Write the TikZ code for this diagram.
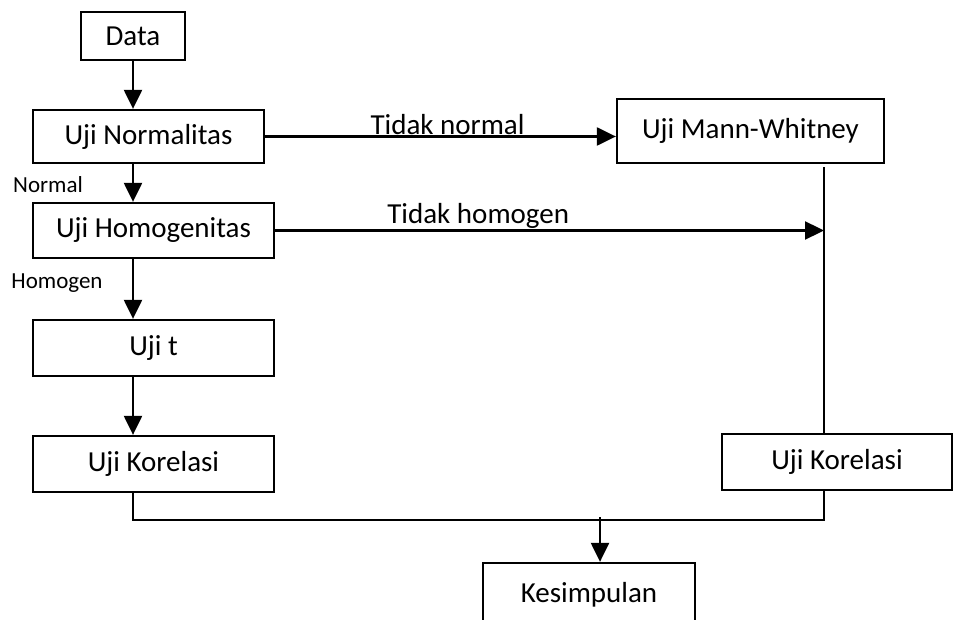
\documentclass[tikz,border=0pt]{standalone}
\usepackage{fontspec}
\setmainfont{Carlito}
\usepackage{tikz}
\usetikzlibrary{calc,arrows.meta}

\tikzset{
  box/.style={draw, line width=2.3pt, fill=white, inner sep=0pt,
    font=\fontsize{29}{34}\selectfont},
  arr/.style={line width=2.3pt, -{Triangle[length=19pt,width=18pt]}},
  link/.style={line width=1.7pt},
  small/.style={font=\fontsize{23}{27}\selectfont, inner sep=0pt},
  lbl/.style={font=\fontsize{29}{34}\selectfont, above, inner sep=1pt}
}

\begin{document}
\begin{tikzpicture}[x=1pt,y=-1pt]
  \clip (0,0) rectangle (955,620);
  \fill[white] (0,0) rectangle (955,620);

  % Kotak kiri
  \node[box, minimum width=104pt, minimum height=48pt] (data) at (133,36) {Data};
  \node[box, minimum width=231pt, minimum height=53pt] (norm) at (148.5,136.5) {Uji Normalitas};
  \node[box, minimum width=241pt, minimum height=55pt] (homog) at (153.5,230.5) {Uji Homogenitas};
  \node[box, minimum width=241pt, minimum height=56pt] (ujit) at (153.5,348) {Uji t};
  \node[box, minimum width=241pt, minimum height=56pt] (korL) at (153.5,464) {Uji Korelasi};

  % Kotak kanan
  \node[box, minimum width=267pt, minimum height=64pt] (mw) at (750.5,131) {Uji Mann-Whitney};
  \node[box, minimum width=230pt, minimum height=56pt] (korR) at (837,462) {Uji Korelasi};
  \node[box, minimum width=212pt, minimum height=64pt, text depth=0pt] (kes) at (589,595) {\raisebox{5pt}{Kesimpulan}};

  % Titik bantu
  \coordinate (rv) at (824,0);
  \coordinate (join) at (600,520);

  % Alur kiri
  \draw[arr] (data) -- (data |- norm.north);
  \draw[arr] (norm.south -| data) -- (homog.north -| data);
  \node[small] at (48,185) {Normal};
  \draw[arr] (homog.south -| data) -- (ujit.north -| data);
  \node[small] at (57,283) {Homogen};
  \draw[arr] (ujit.south -| data) -- (korL.north -| data);

  % Alur kanan
  \draw[arr] (norm.east) -- (mw.west |- norm.east)
    node[lbl, pos=0.52] {Tidak normal};
  \draw[arr] (homog.east) -- (homog.east -| rv)
    node[lbl, pos=0.37] {Tidak homogen};
  \draw[link] ($(mw.south -| rv)+(0,3)$) -- (korR.north -| rv);

  % Gabungan
  \draw[link] (korL.south -| data) -- (data |- join) -- (rv |- join) -- (korR.south -| rv);
  \draw[arr] ($(join)+(0,-3)$) -- (join |- kes.north);
\end{tikzpicture}
\end{document}
